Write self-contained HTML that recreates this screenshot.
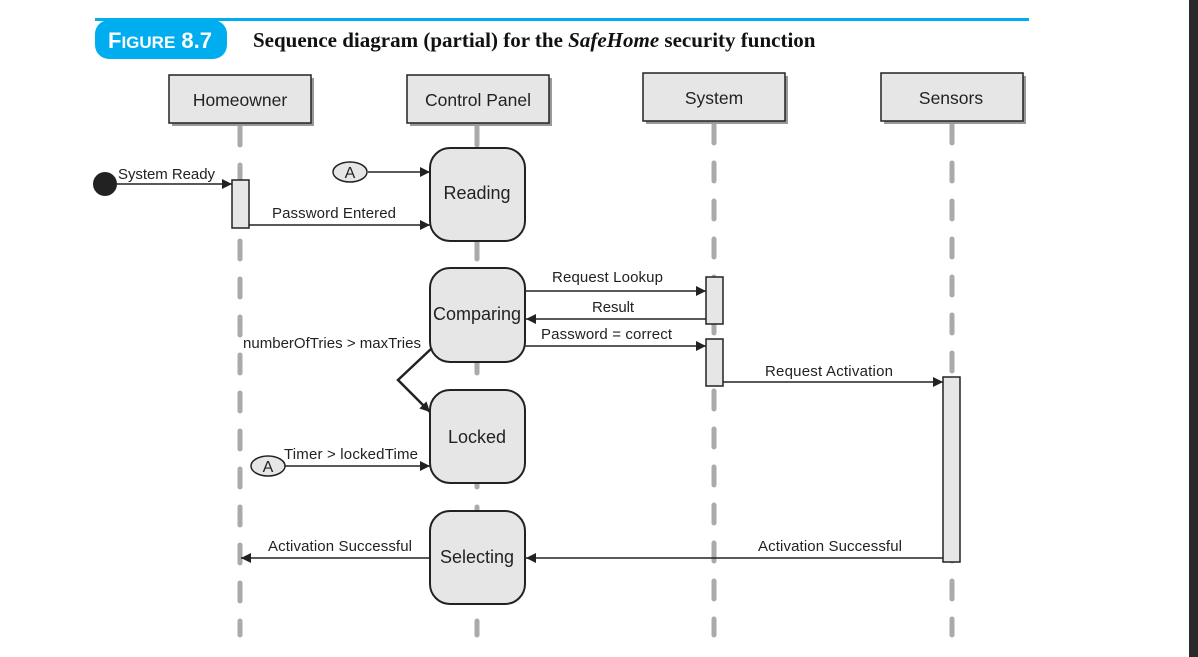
<!DOCTYPE html>
<html><head><meta charset="utf-8"><style>
html,body{margin:0;padding:0;background:#fff;}
svg{display:block;}
text{font-family:"Liberation Sans",sans-serif;fill:#222;}
</style></head><body>
<svg width="1198" height="657" viewBox="0 0 1198 657" xmlns="http://www.w3.org/2000/svg">
<defs>
<marker id="ar" viewBox="0 0 10 10" refX="10" refY="5" markerWidth="13" markerHeight="10" markerUnits="userSpaceOnUse" orient="auto"><path d="M0,0 L10,5 L0,10 z" fill="#222"/></marker>
</defs>
<rect x="1189" y="0" width="9" height="657" fill="#2a2a2a"/>
<rect x="95" y="18" width="934" height="3" fill="#00aeef"/>
<rect x="95" y="20" width="132" height="39" rx="14" fill="#00aeef"/>
<text x="108" y="48" font-size="22" font-weight="bold" style="fill:#fff">F<tspan font-size="17">IGURE</tspan> 8.7</text>
<text x="253" y="47" font-size="21" font-weight="bold" style="font-family:'Liberation Serif',serif;fill:#111">Sequence diagram (partial) for the <tspan font-style="italic">SafeHome</tspan> security function</text>

<g stroke="#aaaaad" stroke-width="5" stroke-linecap="round" stroke-dasharray="18 20">
<line x1="240" y1="127" x2="240" y2="635"/>
<line x1="477" y1="127" x2="477" y2="635"/>
<line x1="714" y1="125" x2="714" y2="635"/>
<line x1="952" y1="125" x2="952" y2="635"/>
</g>

<g stroke="#222" stroke-width="1.5" fill="#e6e6e6">
<rect x="172" y="78" width="142" height="48" fill="#999" stroke="none"/>
<rect x="169" y="75" width="142" height="48"/>
<rect x="410" y="78" width="142" height="48" fill="#999" stroke="none"/>
<rect x="407" y="75" width="142" height="48"/>
<rect x="646" y="76" width="142" height="48" fill="#999" stroke="none"/>
<rect x="643" y="73" width="142" height="48"/>
<rect x="884" y="76" width="142" height="48" fill="#999" stroke="none"/>
<rect x="881" y="73" width="142" height="48"/>
</g>
<g font-size="17.5" text-anchor="middle">
<text x="240" y="106">Homeowner</text>
<text x="478" y="106">Control Panel</text>
<text x="714" y="104">System</text>
<text x="951" y="104">Sensors</text>
</g>

<g stroke="#222" stroke-width="2" fill="#e6e6e6">
<rect x="430" y="148" width="95" height="93" rx="20"/>
<rect x="430" y="268" width="95" height="94" rx="20"/>
<rect x="430" y="390" width="95" height="93" rx="20"/>
<rect x="430" y="511" width="95" height="93" rx="20"/>
</g>
<g font-size="18" text-anchor="middle">
<text x="477" y="199">Reading</text>
<text x="477" y="320">Comparing</text>
<text x="477" y="443">Locked</text>
<text x="477" y="563">Selecting</text>
</g>

<g stroke="#222" stroke-width="1.5" fill="#e6e6e6">
<rect x="232" y="180" width="17" height="48"/>
<rect x="706" y="277" width="17" height="47"/>
<rect x="706" y="339" width="17" height="47"/>
<rect x="943" y="377" width="17" height="185"/>
</g>

<circle cx="105" cy="184" r="12" fill="#222"/>
<g stroke="#222" stroke-width="1.5" fill="none" marker-end="url(#ar)">
<line x1="117" y1="184" x2="232" y2="184"/>
<line x1="249" y1="225" x2="430" y2="225"/>
<line x1="368" y1="172" x2="430" y2="172"/>
<line x1="525" y1="291" x2="706" y2="291"/>
<line x1="706" y1="319" x2="526" y2="319"/>
<line x1="525" y1="346" x2="706" y2="346"/>
<line x1="723" y1="382" x2="943" y2="382"/>
<line x1="285" y1="466" x2="430" y2="466"/>
<line x1="943" y1="558" x2="526" y2="558"/>
<line x1="430" y1="558" x2="241" y2="558"/>
<polyline points="432,348 398,380 430,412" stroke-width="2.5"/>
</g>
<ellipse cx="350" cy="172" rx="17" ry="10" fill="#e6e6e6" stroke="#222" stroke-width="1.5"/>
<text x="350" y="178" font-size="16" text-anchor="middle">A</text>
<ellipse cx="268" cy="466" rx="17" ry="10" fill="#e6e6e6" stroke="#222" stroke-width="1.5"/>
<text x="268" y="472" font-size="16" text-anchor="middle">A</text>

<g font-size="15">
<text x="118" y="179" textLength="97">System Ready</text>
<text x="272" y="218" textLength="124">Password Entered</text>
<text x="552" y="282" textLength="111">Request Lookup</text>
<text x="592" y="312" textLength="42">Result</text>
<text x="541" y="339" textLength="131">Password = correct</text>
<text x="243" y="348" textLength="178">numberOfTries &gt; maxTries</text>
<text x="765" y="376" textLength="128">Request Activation</text>
<text x="284" y="459" textLength="134">Timer &gt; lockedTime</text>
<text x="268" y="551" textLength="144">Activation Successful</text>
<text x="758" y="551" textLength="144">Activation Successful</text>
</g>
</svg>
</body></html>
